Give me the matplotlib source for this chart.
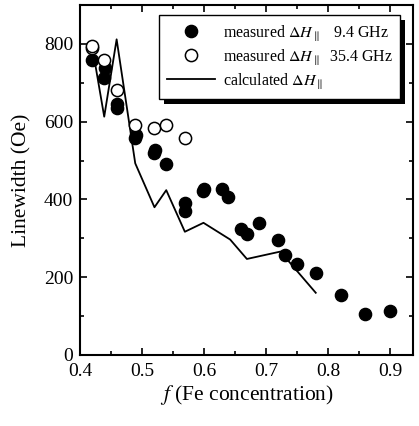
import matplotlib
matplotlib.use("Agg")
import matplotlib.pyplot as plt
from matplotlib.ticker import MultipleLocator
from matplotlib.patches import Rectangle

plt.rcParams['font.family'] = ['Liberation Serif', 'DejaVu Serif']
plt.rcParams['mathtext.fontset'] = 'stix'

# measured 9.4 GHz
f_94 = [0.419, 0.439, 0.44, 0.459, 0.46, 0.489, 0.49, 0.52, 0.521, 0.539, 0.569, 0.569,
        0.599, 0.60, 0.629, 0.639, 0.659, 0.669, 0.689, 0.719, 0.73, 0.75, 0.78, 0.82, 0.86, 0.90]
h_94 = [759, 712, 738, 635, 645, 558, 566, 520, 527, 491, 370, 392,
        422, 428, 426, 407, 323, 311, 339, 297, 257, 234, 212, 155, 105, 113]

# measured 35.4 GHz
f_354 = [0.419, 0.42, 0.439, 0.459, 0.489, 0.52, 0.539, 0.569]
h_354 = [789, 795, 760, 682, 592, 583, 592, 559]

# calculated
f_calc = [0.42, 0.439, 0.459, 0.489, 0.52, 0.539, 0.569, 0.599, 0.642, 0.669, 0.723, 0.78]
h_calc = [790, 613, 812, 493, 380, 424, 317, 340, 297, 247, 266, 160]

x_ticks = [0.4, 0.5, 0.6, 0.7, 0.8, 0.9]
x_ticklabels = ['0.4', '0.5', '0.6', '0.7', '0.8', '0.9']

fig = plt.figure(figsize=(4.19, 4.26), dpi=100)
ax = fig.add_axes([0.191, 0.1667, 0.795, 0.8213])

ax.plot(f_calc, h_calc, color='black', lw=1.3, zorder=2,
        label=r'calculated $\Delta H_{\parallel}$')
ax.plot(f_94, h_94, 'o', color='black', ms=8.8, ls='none', zorder=3,
        label=r'measured $\Delta H_{\parallel}$   9.4 GHz')
ax.plot(f_354, h_354, 'o', mfc='white', mec='black', mew=1.1, ms=8.8, ls='none', zorder=4,
        label=r'measured $\Delta H_{\parallel}$  35.4 GHz')

ax.set_xlim(0.4, 0.937)
ax.set_ylim(0, 900)
ax.xaxis.set_minor_locator(MultipleLocator(0.05))
ax.yaxis.set_major_locator(MultipleLocator(200))
ax.yaxis.set_minor_locator(MultipleLocator(100))
ax.set_xticks(x_ticks)
ax.set_xticklabels(x_ticklabels)
ax.tick_params(which='both', direction='in', top=True, right=True, labelsize=14, width=1.2)
ax.tick_params(which='major', length=5, pad=5)
ax.tick_params(which='minor', length=3)
ax.tick_params(axis='x', pad=6)
for s in ax.spines.values():
    s.set_linewidth(1.5)

ax.set_xlabel(r'$f$ (Fe concentration)', fontsize=15.5, labelpad=2)
ax.set_ylabel('Linewidth (Oe)', fontsize=15.5, labelpad=9)

h, l = ax.get_legend_handles_labels()
leg = ax.legend([h[1], h[2], h[0]], [l[1], l[2], l[0]], loc='upper right',
                bbox_to_anchor=(0.962, 0.971), fontsize=11.5, frameon=True, fancybox=False,
                borderpad=0.5, labelspacing=0.3, framealpha=1.0, facecolor='white',
                handlelength=3.0, handletextpad=0.45, edgecolor='black', borderaxespad=0.0)
leg.get_frame().set_linewidth(1.0)
leg.set_zorder(10)

fig.canvas.draw()
bb = leg.get_window_extent().transformed(fig.transFigure.inverted())
dx, dy = 5 / 419, 5 / 426
shadow = Rectangle((bb.x0 + dx, bb.y0 - dy), bb.width, bb.height, transform=fig.transFigure,
                   facecolor='black', edgecolor='none', zorder=9)
ax.add_artist(shadow)
shadow.set_clip_on(False)

fig.savefig('out.png', dpi=100)
